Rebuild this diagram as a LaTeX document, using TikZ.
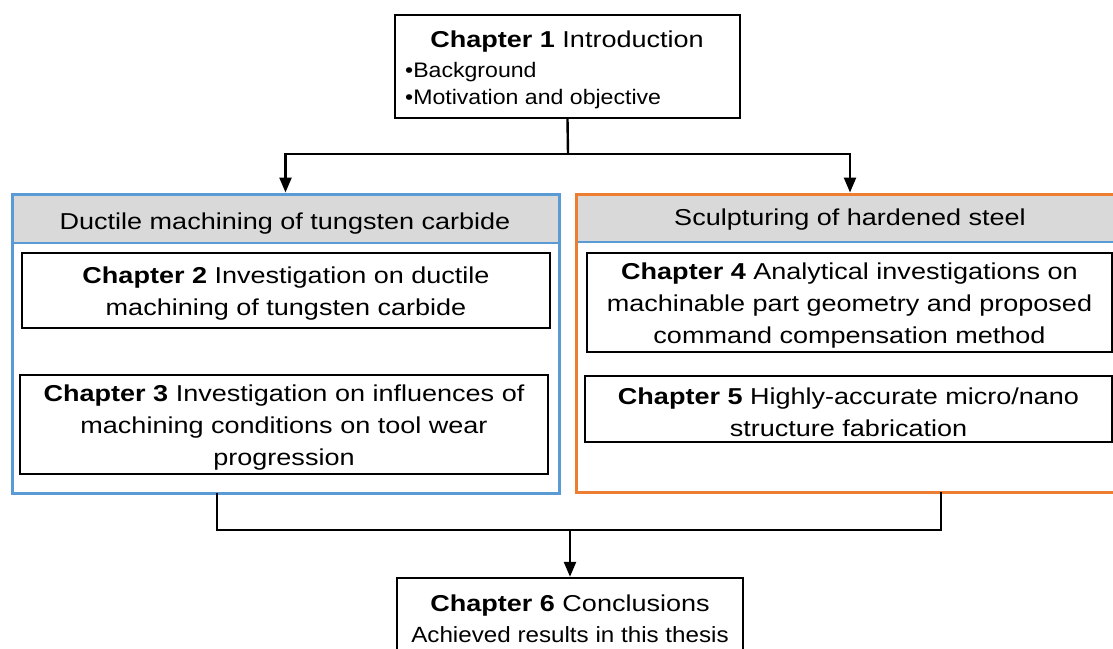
\documentclass[tikz,border=0pt]{standalone}
\usepackage{fontspec}
\setmainfont{Liberation Sans}[FakeStretch=1.175]
\newfontfamily\narrowf{Liberation Sans}[FakeStretch=1.1]
\usetikzlibrary{arrows.meta}
\definecolor{hdrgray}{RGB}{217,217,217}
\definecolor{boxblue}{RGB}{91,155,213}
\definecolor{boxorange}{RGB}{237,125,49}
\tikzset{
  chbox/.style={draw=black,line width=2.4pt,fill=white,inner sep=0pt},
  chtext/.style={align=center,inner sep=0pt,yshift=-3.5pt,font=\fontsize{23}{32}\selectfont},
  grp/.style={line width=3pt,inner sep=0pt},
  hdr/.style={font=\fontsize{23}{32}\selectfont,inner sep=0pt},
  conn/.style={line width=2.4pt},
  arr/.style={line width=2.4pt,-{Triangle[length=15pt,width=12pt]}},
}
\begin{document}
\begin{tikzpicture}[x=1pt,y=-1pt]
\useasboundingbox (0,0) rectangle (1113,648);
% group boxes
\fill[hdrgray] (12,194) rectangle (559,243);
\draw[boxblue,line width=2.5pt] (12,243) -- (559,243);
\node[grp,draw=boxblue,minimum width=547pt,minimum height=299pt] (blue) at (285.5,343.5) {};
\fill[hdrgray] (576,194) rectangle (1124,242);
\draw[boxblue,line width=2.5pt] (576,242) -- (1124,242);
\node[grp,draw=boxorange,minimum width=548pt,minimum height=298pt] (orange) at (850,343) {};
\node[hdr] (hdA) at (285,224) {Ductile machining of tungsten carbide};
\node[hdr] (hdB) at (850,220) {Sculpturing of hardened steel};
% chapter 1
\node[chbox,minimum width=345pt,minimum height=103pt] (ch1) at (567.5,66.5) {};
\node[hdr] (ch1t) at (567,42) {\textbf{Chapter 1} Introduction};
\node[anchor=west,align=left,inner sep=0pt,font=\narrowf\fontsize{21}{27}\selectfont] (ch1b) at (405,86) {•Background\\•Motivation and objective};
% chapters 2-5
\node[chbox,minimum width=528pt,minimum height=75pt] (ch2) at (286,290.5) {};
\node[chtext] (ch2t) at (ch2.center) {\textbf{Chapter 2} Investigation on ductile\\machining of tungsten carbide};
\node[chbox,minimum width=528pt,minimum height=99pt] (ch3) at (284,424.5) {};
\node[chtext] (ch3t) at (ch3.center) {\textbf{Chapter 3} Investigation on influences of\\machining conditions on tool wear\\progression};
\node[chbox,minimum width=525pt,minimum height=99pt] (ch4) at (849.5,302.5) {};
\node[chtext] (ch4t) at (ch4.center) {\textbf{Chapter 4} Analytical investigations on\\machinable part geometry and proposed\\command compensation method};
\node[chbox,minimum width=527pt,minimum height=66pt] (ch5) at (848.5,409) {};
\node[chtext] (ch5t) at (ch5.center) {\textbf{Chapter 5} Highly-accurate micro/nano\\structure fabrication};
% chapter 6
\node[chbox,minimum width=346pt,minimum height=90pt] (ch6) at (570,623) {};
\node[hdr] (ch6t) at (570,606) {\textbf{Chapter 6} Conclusions};
\node[inner sep=0pt,font=\narrowf\fontsize{22}{27}\selectfont] (ch6b) at (570,635) {Achieved results in this thesis};
% connectors
\coordinate (j1) at (568,154);
\draw[conn] (ch1.south) -- (j1);
\draw[arr] (j1) -| (blue.north);
\draw[arr] (j1) -| (orange.north);
\coordinate (b1) at (217,493);
\coordinate (b2) at (941,492);
\coordinate (j2) at (570,530);
\draw[conn] (b1) |- (j2) -| (b2);
\draw[arr] (j2) -- (ch6.north);
\end{tikzpicture}
\end{document}
